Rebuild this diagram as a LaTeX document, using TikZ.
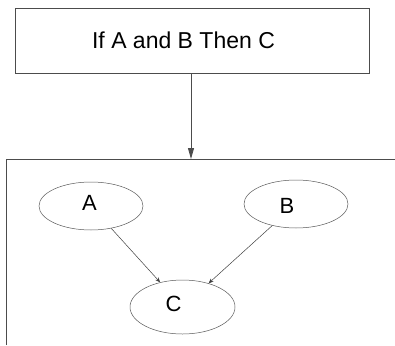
\documentclass[tikz,border=0pt]{standalone}
\usepackage{fontspec}
\setmainfont{Liberation Sans}
\usetikzlibrary{arrows.meta,shapes.geometric}
\begin{document}
\begin{tikzpicture}[x=1pt,y=-1pt,
  frame/.style={draw=black!70,line width=1pt},
  ruleitem/.style={draw=black!70,line width=0.8pt,minimum width=354pt,minimum height=65pt,inner sep=0pt,font=\fontsize{23}{27}\selectfont},
  var/.style={ellipse,draw=black!65,line width=0.5pt,inner sep=0pt},
  varname/.style={inner sep=0pt,font=\fontsize{22}{26}\selectfont},
  link/.style={draw=black!75,line width=0.5pt,-{Stealth[length=5pt,width=4pt]}},
  mainlink/.style={draw=black!70,line width=0.9pt,-{Triangle[length=11pt,width=6pt]}}
]
\useasboundingbox (0,0) rectangle (395,345);
% rule box
\node[ruleitem] (rule) at (192,40.5) {\hspace*{-17pt}If A and B Then C};
% frame holding the network (open at bottom and right)
\coordinate (ftop) at (191,159);
\draw[frame] (6.5,345) -- (6.5,159) -- (395,159);
\draw[mainlink] (rule.south -| ftop) -- (ftop);
% variables
\node[var,minimum width=104pt,minimum height=48pt] (A) at (91,206) {};
\node[var,minimum width=104pt,minimum height=48pt] (B) at (296,204) {};
\node[var,minimum width=105pt,minimum height=54pt] (C) at (182.5,307) {};
\node[varname,xshift=-1.5pt,yshift=3.5pt] (Atext) at (A.center) {A};
\node[varname,xshift=-9pt,yshift=-1.5pt] (Btext) at (B.center) {B};
\node[varname,xshift=-9pt,yshift=3pt] (Ctext) at (C.center) {C};
\draw[link] (A) -- (C);
\draw[link] (B) -- (C);
\end{tikzpicture}
\end{document}
